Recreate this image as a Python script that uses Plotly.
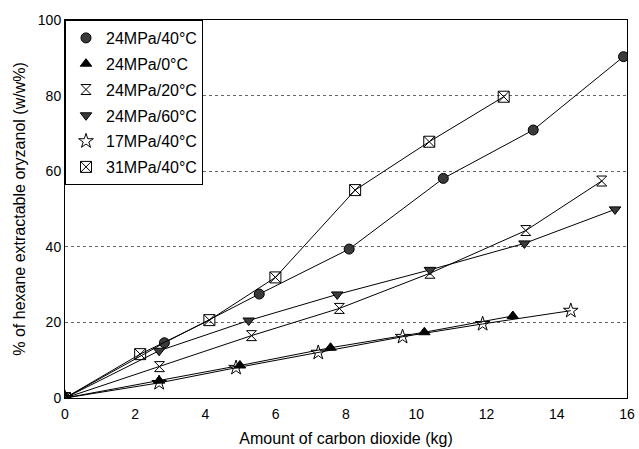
import plotly.graph_objects as go

names = ["24MPa/40°C", "24MPa/0°C", "24MPa/20°C", "24MPa/60°C", "17MPa/40°C", "31MPa/40°C"]

x_24_40 = [0, 2.83, 5.53, 8.09, 10.77, 13.33, 15.9]
y_24_40 = [0, 14.6, 27.5, 39.4, 58.1, 70.9, 90.3]

x_24_0 = [0, 2.68, 4.98, 7.56, 10.23, 12.75]
y_24_0 = [0, 4.6, 8.6, 13.3, 17.4, 21.7]

x_24_20 = [0, 2.69, 5.31, 7.81, 10.39, 13.12, 15.28]
y_24_20 = [0, 8.3, 16.5, 23.7, 33.0, 44.3, 57.4]

x_24_60 = [0, 2.68, 5.23, 7.75, 10.39, 13.08, 15.66]
y_24_60 = [0, 12.5, 20.5, 27.4, 33.9, 40.9, 49.9]

x_17_40 = [0, 2.68, 4.87, 7.21, 9.61, 11.89, 14.4]
y_17_40 = [0, 4.0, 8.0, 12.0, 16.2, 19.6, 23.1]

x_31_40 = [0, 2.14, 4.11, 5.99, 8.26, 10.37, 12.49]
y_31_40 = [0, 11.6, 20.6, 31.9, 55.0, 67.8, 79.7]

x_ticks = [0, 2, 4, 6, 8, 10, 12, 14, 16]
y_ticks = [0, 20, 40, 60, 80, 100]

series = [
    (x_24_40, y_24_40, "circle", "#3a3a3a", 10),
    (x_24_0, y_24_0, "triangle-up", "#000000", 10),
    (x_24_20, y_24_20, "hourglass-open", "#000000", 10),
    (x_24_60, y_24_60, "triangle-down", "#3a3a3a", 10),
    (x_17_40, y_17_40, "star-open", "#000000", 11),
    (x_31_40, y_31_40, "square-x-open", "#000000", 11),
]

fig = go.Figure()
for i, (xs, ys, sym, col, sz) in enumerate(series):
    mk = dict(symbol=sym, size=sz, color=col, line=dict(color="black", width=1))
    fig.add_trace(go.Scatter(
        x=xs, y=ys, name=names[i], mode="lines+markers", showlegend=False,
        line=dict(color="black", width=1), marker=mk,
    ))
    # legend entry: marker only
    fig.add_trace(go.Scatter(
        x=[None], y=[None], name=names[i], mode="markers",
        legendgroup=f"g{i}", marker=mk,
    ))

font = "Liberation Sans, Arial, sans-serif"
fig.update_layout(
    width=639, height=449,
    margin=dict(l=65, r=12, t=20, b=51),
    paper_bgcolor="white", plot_bgcolor="white",
    font=dict(family=font, size=14, color="black"),
    showlegend=True,
    legend=dict(x=0, y=1, xanchor="left", yanchor="top",
                bordercolor="black", borderwidth=1, bgcolor="white",
                font=dict(size=16), tracegroupgap=2, itemwidth=30),
    xaxis=dict(range=[0, 16], tickvals=x_ticks, showgrid=False,
               showline=True, linecolor="black", linewidth=1, mirror=True,
               zeroline=False, ticks="outside", ticklen=3, tickcolor="white",
               automargin=False,
               title=dict(text="Amount of carbon dioxide (kg)", standoff=12,
                          font=dict(size=16))),
    yaxis=dict(range=[0, 100], tickvals=y_ticks, showgrid=True,
               gridcolor="#666666", griddash="dot", gridwidth=1,
               showline=True, linecolor="black", linewidth=1, mirror=True,
               zeroline=False, ticks="", automargin=False,
               title=dict(text="% of hexane extractable oryzanol (w/w%)",
                          standoff=8, font=dict(size=16))),
)
fig.write_html("out.html")
